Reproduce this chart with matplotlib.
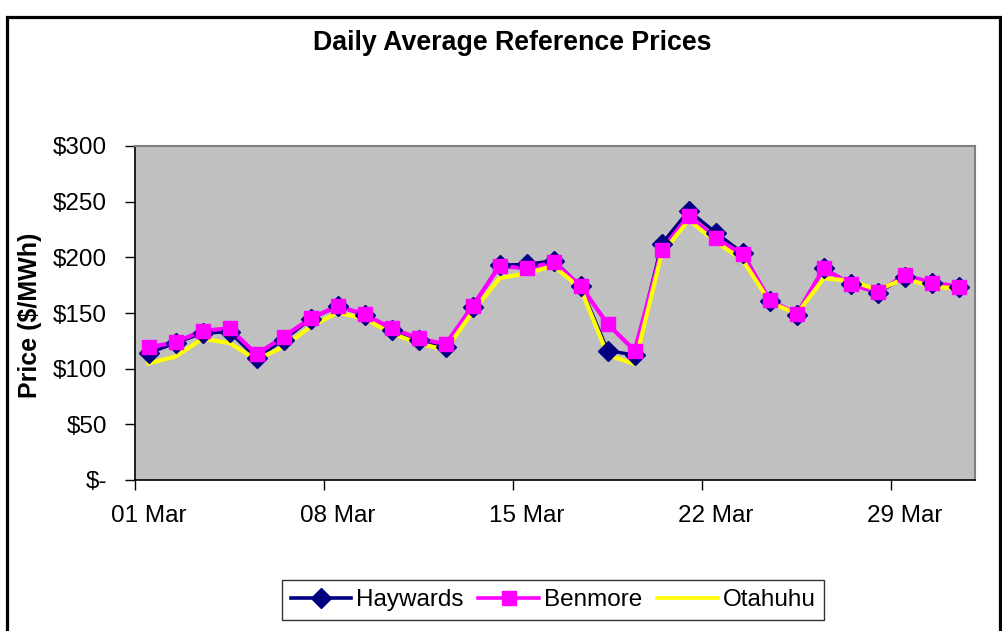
import numpy as np
import matplotlib
matplotlib.use("Agg")
import matplotlib.pyplot as plt
from matplotlib.lines import Line2D
from matplotlib.patches import Rectangle
from matplotlib.ticker import FuncFormatter

plt.rcParams['font.family'] = ['Liberation Sans', 'DejaVu Sans']

# day of month (March)
days = list(range(1, 32))
tick_days = [1, 8, 15, 22, 29]
tick_labels = ["01 Mar", "08 Mar", "15 Mar", "22 Mar", "29 Mar"]

haywards = [114, 123, 132, 133, 109.6, 125.8, 144.6, 156, 148.5, 134.4,
            125.4, 119.8, 155.7, 193, 193.7, 197, 174, 116.2, 112.3, 212,
            241.9, 222.2, 203.9, 161, 148.5, 190, 176, 168, 182.6, 177, 173.7]
benmore = [119.2, 123.7, 134.1, 136.2, 112.9, 128.7, 145.2, 156.3, 148.8, 136.2,
           127.2, 121.9, 156.3, 192.2, 190.1, 195.5, 174.3, 140.1, 116.2, 206.6,
           237.4, 217.1, 202.7, 161.7, 149.1, 190.1, 175.8, 168.6, 184.1, 177.2, 173.7]
otahuhu = [104.8, 110.8, 127, 123, 108, 119.7, 137.7, 150.3, 145, 131.7,
           122.8, 116.8, 151.2, 181.2, 185.7, 192.2, 172, 112.3, 104.2, 203.6,
           233.5, 214, 197.6, 160, 149, 181.2, 179, 170.7, 181, 173.7, 172]

NAVY = "#000080"
MAGENTA = "#FF00FF"
YELLOW = "#FFFF00"

fig = plt.figure(figsize=(10.03, 6.31), dpi=100)
ax = fig.add_axes([135/1003, 1 - 480/631, 840/1003, 334/631])
ax.set_facecolor("#C0C0C0")

# lines first, markers on top
ax.plot(days, haywards, color=NAVY, lw=2.4, zorder=2)
ax.plot(days, benmore, color=MAGENTA, lw=3, zorder=3)
ax.plot(days, otahuhu, color=YELLOW, lw=3, zorder=4)
ax.plot(days, haywards, ls="none", marker="D", ms=10.5, color=NAVY, zorder=5)
ax.plot(days, benmore, ls="none", marker="s", ms=9.5, color=MAGENTA, zorder=6)

ax.set_xlim(0.5, 31.6)
ax.set_ylim(0, 300)

# ticks between days, labels centred on the day
ax.set_xticks([d - 0.5 for d in tick_days])
ax.set_xticklabels([])
ax.set_xticks(tick_days, minor=True)
ax.set_xticklabels(tick_labels, minor=True, fontsize=17.5)
ax.tick_params(axis="x", which="major", direction="out", length=7, width=1)
ax.tick_params(axis="x", which="minor", length=0, pad=18)

ax.set_yticks(np.arange(0, 301, 50))
ax.yaxis.set_major_formatter(FuncFormatter(lambda v, p: "$-" if v == 0 else "${:.0f}".format(v)))
ax.tick_params(axis="y", direction="out", length=7, width=1, labelsize=17.5, pad=13)

for s in ["top", "right"]:
    ax.spines[s].set_color("#808080")
    ax.spines[s].set_linewidth(1.5)
for s in ["left", "bottom"]:
    ax.spines[s].set_color("black")
    ax.spines[s].set_linewidth(1.2)

fig.text(30/1003, 1 - 315/631, "Price ($/MWh)", rotation=90, fontsize=18,
         fontweight="bold", ha="center", va="center")
fig.text(512/1003, 1 - 43/631, "Daily Average Reference Prices", fontsize=19.3,
         fontweight="bold", ha="center", va="center")

handles = [
    Line2D([], [], color=NAVY, lw=2.6, marker="D", ms=10),
    Line2D([], [], color=MAGENTA, lw=2.6, marker="s", ms=9.5),
    Line2D([], [], color=YELLOW, lw=2.6),
]
leg = fig.legend(handles, ["Haywards", "Benmore", "Otahuhu"], loc="center",
                 bbox_to_anchor=(553/1003, 1 - 600/631), ncol=3, fontsize=17.5,
                 frameon=True, fancybox=False, edgecolor="black",
                 handlelength=2.5, handletextpad=0.2, columnspacing=0.6,
                 borderpad=0.35, borderaxespad=0)
leg.get_frame().set_linewidth(1.0)

# outer chart border (bottom edge runs off the image)
fig.patches.append(Rectangle((7/1003, -0.1), 993/1003, 1.1 - 17/631,
                             transform=fig.transFigure, fill=False,
                             edgecolor="black", lw=2.3))

fig.savefig("out.png", dpi=100)
